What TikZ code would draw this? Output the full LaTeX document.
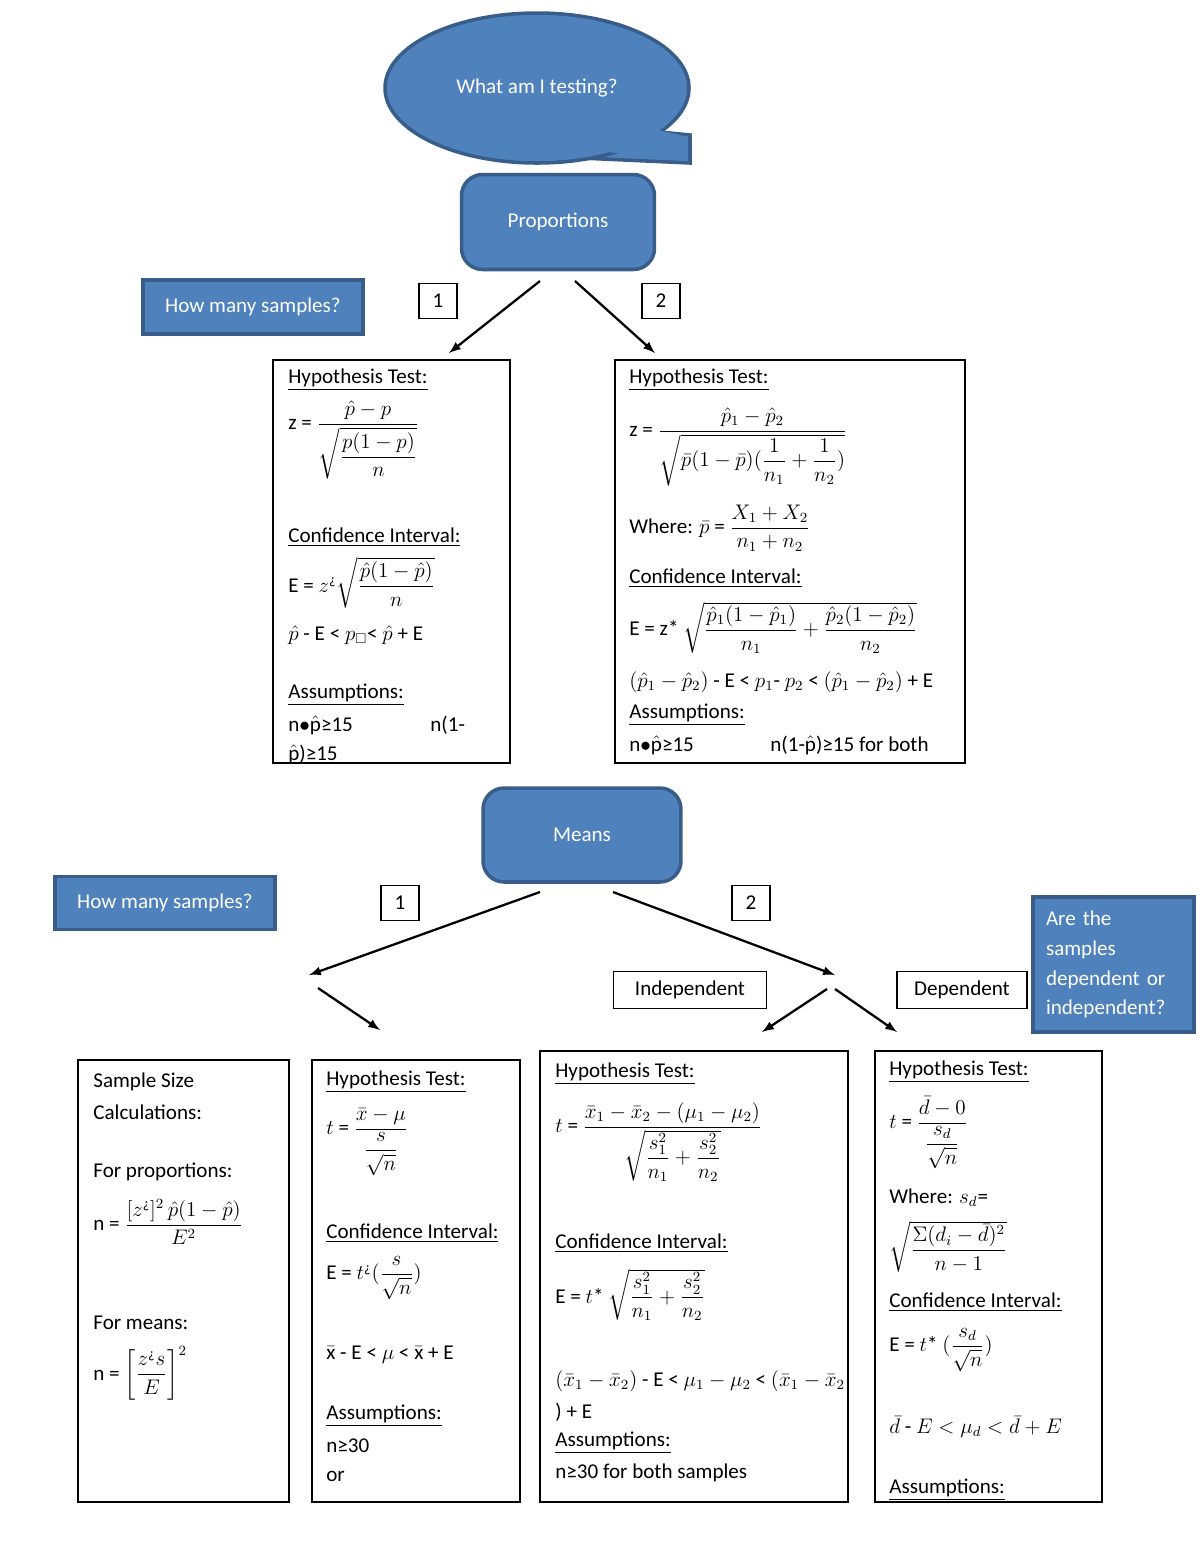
\documentclass[tikz,border=0pt]{standalone}
\usepackage{amsmath,amssymb}
\usepackage{fontspec}
\setmainfont{Carlito}
\usetikzlibrary{positioning}
\definecolor{bluefill}{HTML}{4F81BD}
\definecolor{blueline}{HTML}{385D8A}
\tikzset{
  bluebox/.style={draw=blueline, line width=2pt, fill=bluefill, text=white, font=\large},
  outbox/.style={draw, thick},
  numbox/.style={draw, thick, minimum width=0.76cm, minimum height=0.7cm, font=\large},
  txt/.style={anchor=west, inner sep=0pt, font=\large},
  arr/.style={-latex, line width=1.3pt}
}
\newcommand{\ul}[1]{\underline{#1}}
\begin{document}
\begin{tikzpicture}[x=0.02cm, y=-0.02cm]
    \useasboundingbox (0,0) rectangle (1200,1553);
    % speech bubble
    \draw[blueline, line width=2pt, fill=bluefill]
        (640,130) -- (690,135) -- (690,163) -- (580,158) -- cycle;
    \draw[blueline, line width=2pt, fill=bluefill] (537,88) ellipse (152 and 75);
    \fill[bluefill] (600,125) -- (650,128) -- (688,137) -- (688,161) -- (590,150) -- cycle;
    \node[text=white, font=\large] (q) at (537,88) {What am I testing?};
    % proportions part
    \node[bluebox, rounded corners=12pt, minimum width=3.86cm, minimum height=1.9cm] (prop) at (558,222) {Proportions};
    \node[bluebox, minimum width=4.4cm, minimum height=1.08cm] (hms1) at (253,307) {How many samples?};
    \node[numbox] (p1) at (438,301) {1};
    \node[numbox] (p2) at (661,301) {2};
    \coordinate (pa) at (540,281);
    \coordinate (pb) at (575,281);
    \coordinate (pc) at (449,353);
    \coordinate (pd) at (655,353);
    \draw[arr] (pa) -- (pc);
    \draw[arr] (pb) -- (pd);
    \node[outbox, minimum width=4.74cm, minimum height=8.06cm] (lbox) at (391.5,561.5) {};
    \node[outbox, minimum width=7cm, minimum height=8.06cm] (rbox) at (790,561.5) {};
    % left box text
    \node[txt] at (288,380) {\ul{Hypothesis Test:}};
    \node[txt] at (288,440) {z = $\dfrac{\hat p-p}{\sqrt{\dfrac{p(1-p)}{n}}}$};
    \node[txt] at (288,537) {\ul{Confidence Interval:}};
    \node[txt] at (288,583) {E = $z^{\text{¿}}\sqrt{\dfrac{\hat p(1-\hat p)}{n}}$};
    \node[txt] at (288,635) {$\hat p$ - E < $p_{\square}$< $\hat p$ + E};
    \node[txt] at (288,695) {\ul{Assumptions:}};
    \node[txt] at (288,725) {n$\bullet\hat{\text{p}}$≥15};
    \node[txt] at (430,725) {n(1-};
    \begin{scope}
        \clip (274,740) rectangle (509,762);
        \node[txt] at (288,754) {$\hat{\text{p}}$)≥15};
    \end{scope}
    % right box text
    \node[txt] at (629,380) {\ul{Hypothesis Test:}};
    \node[txt] at (629,447) {z = $\dfrac{\hat p_1-\hat p_2}{\sqrt{\bar p(1-\bar p)(\dfrac{1}{n_1}+\dfrac{1}{n_2})}}$};
    \node[txt] at (629,528) {Where: $\bar p$ = $\dfrac{X_1+X_2}{n_1+n_2}$};
    \node[txt] at (629,578) {\ul{Confidence Interval:}};
    \node[txt] at (629,628) {E = z* $\sqrt{\dfrac{\hat p_1(1-\hat p_1)}{n_1}+\dfrac{\hat p_2(1-\hat p_2)}{n_2}}$};
    \node[txt] at (629,682) {$(\hat p_1-\hat p_2)$ - E < $p_1$- $p_2$ < $(\hat p_1-\hat p_2)$ + E};
    \node[txt] at (629,715) {\ul{Assumptions:}};
    \node[txt] at (629,745) {n$\bullet\hat{\text{p}}$≥15};
    \node[txt] at (770,745) {n(1-$\hat{\text{p}}$)≥15 for both};
    % means part
    \node[bluebox, rounded corners=12pt, minimum width=3.96cm, minimum height=1.88cm] (means) at (582,835) {Means};
    \node[bluebox, minimum width=4.4cm, minimum height=1.06cm] (hms2) at (165,903) {How many samples?};
    \node[numbox] (m1) at (400,903) {1};
    \node[numbox] (m2) at (751,903) {2};
    \node[outbox, minimum width=3.06cm, minimum height=0.74cm, font=\large] (indep) at (690,990) {Independent};
    \node[outbox, minimum width=2.6cm, minimum height=0.74cm, font=\large] (dep) at (962,990) {Dependent};
    \node[bluebox, minimum width=3.22cm, minimum height=2.7cm, align=left, text width=2.7cm] (ask) at (1113.5,964.5)
        {Are the\\[3pt] samples\\[3pt] dependent or\\[3pt] independent?};
    \coordinate (ma) at (540,892);
    \coordinate (mb) at (613,892);
    \coordinate (mc) at (309,975);
    \coordinate (md) at (835,975);
    \coordinate (me) at (318,988);
    \coordinate (mf) at (380,1030);
    \coordinate (mg) at (827,989);
    \coordinate (mh) at (762,1032);
    \coordinate (mi) at (835,989);
    \coordinate (mj) at (897,1032);
    \draw[arr] (ma) -- (mc);
    \draw[arr] (mb) -- (md);
    \draw[arr] (me) -- (mf);
    \draw[arr] (mg) -- (mh);
    \draw[arr] (mi) -- (mj);
    \node[outbox, minimum width=4.22cm, minimum height=8.84cm] (b1) at (183.5,1281) {};
    \node[outbox, minimum width=4.16cm, minimum height=8.84cm] (b2) at (416,1281) {};
    \node[outbox, minimum width=6.16cm, minimum height=9.02cm] (b3) at (694,1276.5) {};
    \node[outbox, minimum width=4.54cm, minimum height=9.02cm] (b4) at (988.5,1276.5) {};
    % sample size box
    \node[txt] at (93,1082) {Sample Size};
    \node[txt] at (93,1112) {Calculations:};
    \node[txt] at (93,1172) {For proportions:};
    \node[txt] at (93,1222) {n = $\dfrac{[z^{\text{¿}}]^2\,\hat p(1-\hat p)}{E^2}$};
    \node[txt] at (93,1323) {For means:};
    \node[txt] at (93,1373) {n = $\left[\dfrac{z^{\text{¿}}s}{E}\right]^2$};
    % one sample box
    \node[txt] at (326,1082) {\ul{Hypothesis Test:}};
    \node[txt] at (326,1142) {$t$ = $\dfrac{\bar x-\mu}{\dfrac{s}{\sqrt n}}$};
    \node[txt] at (326,1233) {\ul{Confidence Interval:}};
    \node[txt] at (326,1278) {E = $t^{\text{¿}}(\dfrac{s}{\sqrt n})$};
    \node[txt] at (326,1355) {$\bar{\text{x}}$ - E < $\mu$ < $\bar{\text{x}}$ + E};
    \node[txt] at (326,1416) {\ul{Assumptions:}};
    \node[txt] at (326,1446) {n≥30};
    \node[txt] at (326,1476) {or};
    % independent box
    \node[txt] at (555,1074) {\ul{Hypothesis Test:}};
    \node[txt] at (555,1142) {$t$ = $\dfrac{\bar x_1-\bar x_2-(\mu_1-\mu_2)}{\sqrt{\dfrac{s_1^2}{n_1}+\dfrac{s_2^2}{n_2}}}$};
    \node[txt] at (555,1243) {\ul{Confidence Interval:}};
    \node[txt] at (555,1295) {E = $t$* $\sqrt{\dfrac{s_1^2}{n_1}+\dfrac{s_2^2}{n_2}}$};
    \node[txt] at (555,1381) {$(\bar x_1-\bar x_2)$ - E < $\mu_1-\mu_2$ < $(\bar x_1-\bar x_2$};
    \node[txt] at (555,1412) {) + E};
    \node[txt] at (555,1443) {\ul{Assumptions:}};
    \node[txt] at (555,1473) {n≥30 for both samples};
    % dependent box
    \node[txt] at (889,1072) {\ul{Hypothesis Test:}};
    \node[txt] at (889,1133) {$t$ = $\dfrac{\bar d-0}{\dfrac{s_d}{\sqrt n}}$};
    \node[txt] at (889,1198) {Where: $s_d$=};
    \node[txt] at (889,1247) {$\sqrt{\dfrac{\Sigma(d_i-\bar d)^2}{n-1}}$};
    \node[txt] at (889,1302) {\ul{Confidence Interval:}};
    \node[txt] at (889,1350) {E = $t$* $(\dfrac{s_d}{\sqrt n})$};
    \node[txt] at (889,1427) {$\bar d$ - $E<\mu_d<\bar d+E$};
    \node[txt] at (889,1490) {\ul{Assumptions:}};
\end{tikzpicture}
\end{document}
